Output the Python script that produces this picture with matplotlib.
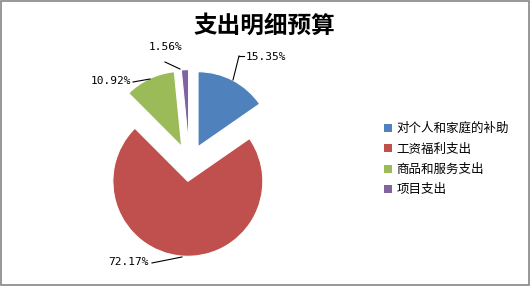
import numpy as np
import matplotlib as mpl
mpl.use('Agg')
import matplotlib.pyplot as plt
from matplotlib.patches import Rectangle, Patch

plt.rcParams['font.family'] = ['Noto Sans CJK SC', 'DejaVu Sans']

# data
title = '支出明细预算'
categories = ['对个人和家庭的补助', '工资福利支出', '商品和服务支出', '项目支出']
values = [15.35, 72.17, 10.92, 1.56]
colors = ['#4F81BD', '#C0504D', '#9BBB59', '#8064A2']
pct_labels = ['15.35%', '72.17%', '10.92%', '1.56%']

W, H = 530, 286
fig = plt.figure(figsize=(W / 100, H / 100), dpi=100)
fig.patches.append(Rectangle((0.001, 0.002), 0.997, 0.995, transform=fig.transFigure,
                             fill=False, edgecolor='#868686', linewidth=1.2))

# pie axes: center at (189.5,163) px, radius ~75 px
R = 75
L = 1.45
S = 2 * L * R
cx, cy = 189.5, 163
ax = fig.add_axes([(cx - S / 2) / W, (H - cy - S / 2) / H, S / W, S / H])

wedges, _ = ax.pie(values, colors=colors, startangle=90, counterclock=False,
                   explode=[0.245] * len(values), radius=1.0,
                   wedgeprops=dict(edgecolor='white', linewidth=0.8))
ax.set_xlim(-L, L)
ax.set_ylim(-L, L)
ax.set_aspect('equal')
ax.axis('off')

# leader lines and labels: edge point, elbow, text anchor, alignment
label_layout = [
    ((0.58, 1.107), (0.66, 1.427), (0.75, 1.42), 'left'),
    ((-0.10, -1.253), (-0.50, -1.333), (-0.54, -1.32), 'right'),
    ((-0.527, 1.12), (-0.753, 1.08), (-0.78, 1.10), 'right'),
    ((-0.127, 1.253), (-0.327, 1.347), (-0.09, 1.547), 'right'),
]
for lab, (p0, p1, pt, ha) in zip(pct_labels, label_layout):
    ax.plot([p0[0], p1[0]], [p0[1], p1[1]], color='black', linewidth=0.8,
            clip_on=False)
    if ha == 'left':
        ax.plot([p1[0], pt[0] - 0.03], [p1[1], p1[1]], color='black',
                linewidth=0.8, clip_on=False)
    ax.text(pt[0], pt[1], lab, ha=ha, va='center', fontsize=8,
            family='DejaVu Sans Mono')

fig.text(264 / W, 1 - 26 / H, title, ha='center', va='center',
         fontsize=17, fontweight='bold')

handles = [Patch(facecolor=c, edgecolor='none') for c in colors]
fig.legend(handles, categories, loc='upper left',
           bbox_to_anchor=(384 / W, 1 - 122 / H), frameon=False,
           borderpad=0, borderaxespad=0,
           fontsize=9, handlelength=0.6, handleheight=0.6,
           handletextpad=0.4, labelspacing=0.6)

fig.savefig('out.png', dpi=100)
